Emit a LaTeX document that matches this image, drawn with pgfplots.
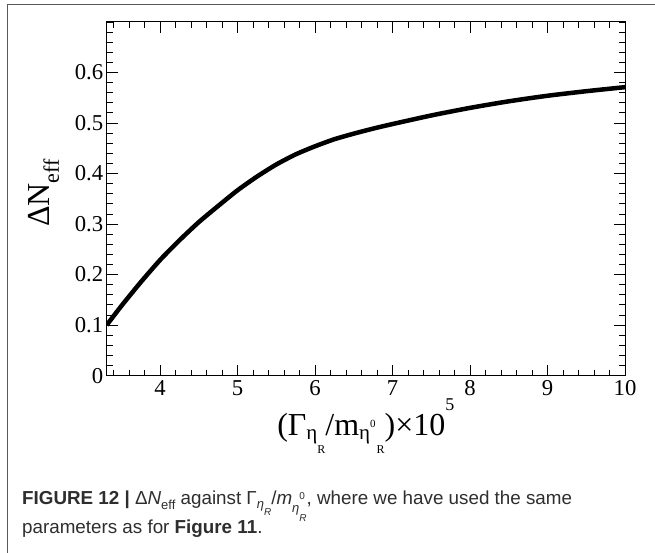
\documentclass[border=0pt]{standalone}
\usepackage{fontspec}
\setmainfont{Liberation Serif}
\newfontfamily\capfont{Liberation Sans}
\usepackage{pgfplots}
\pgfplotsset{compat=1.18}
\newcommand{\fs}[1]{\fontsize{#1}{#1}\selectfont}
\begin{document}
\begin{tikzpicture}[x=1pt,y=1pt]
\useasboundingbox (0,0) rectangle (655,552);
\fill[white] (0,0) rectangle (655,552);
\draw[line width=1.3pt, black!65] (7.3,-5) -- (7.3,547.3) -- (660,547.3);
\begin{axis}[
  at={(106.7pt,176.4pt)}, anchor=south west,
  scale only axis, width=518.3pt, height=353.6pt,
  xmin=3.31, xmax=10, ymin=0, ymax=0.7,
  xtick={4,5,6,7,8,9,10},
  ytick={0,0.1,0.2,0.3,0.4,0.5,0.6},
  minor xtick={3.4,3.6,...,9.9},
  minor ytick={0.02,0.04,...,0.69},
  major tick length=11pt, minor tick length=6pt,
  tick align=inside,
  axis line style={line width=1pt},
  every tick/.style={black, line width=0.9pt},
  /pgf/number format/assume math mode=true,
  yticklabel style={/pgf/number format/.cd, fixed, precision=1},
  ticklabel style={font=\fs{22.7}},
  xticklabel style={anchor=base, yshift=-19.6pt},
  xlabel={\fs{32}(Γ\raisebox{-4pt}{\fs{21}η}\raisebox{-18pt}{\fs{12}R}/m\raisebox{-4pt}{\fs{21}η}\raisebox{8pt}{\fs{11}0}\kern1pt\raisebox{-18pt}{\fs{12}R})×10\raisebox{25pt}{\fs{18}5}},
  xlabel style={at={(axis description cs:0.5,0)}, anchor=base, yshift=-59.4pt, inner sep=0pt},
  ylabel={\fs{32}ΔN\raisebox{-9pt}{\fs{22}eff}},
  ylabel style={at={(axis description cs:-0.1094,0.516)}, anchor=base, rotate=0, inner sep=0pt},
]
\addplot[black, line width=4.5pt, smooth, tension=0.4] coordinates {
(3.31,0.100) (3.50,0.138) (3.75,0.185) (4.00,0.229) (4.25,0.268)
(4.50,0.304) (4.75,0.336) (5.00,0.367) (5.25,0.394) (5.50,0.418)
(5.75,0.438) (6.00,0.454) (6.25,0.468) (6.50,0.479) (6.75,0.489)
(7.00,0.498) (7.50,0.515) (8.00,0.530) (8.50,0.543) (9.00,0.554)
(9.50,0.563) (10.0,0.571)
};
\end{axis}
\begin{scope}[every node/.style={anchor=base west, inner sep=0pt, text=black!82}]
\node at (22,48) {\capfont\fs{18.8}{\bfseries FIGURE 12 |} Δ\textit{N}\raisebox{-5pt}{\fs{13}eff} against Γ\raisebox{-4pt}{\fs{13}\itshape η\raisebox{-7pt}{\fs{10}R}}/\textit{m}\raisebox{-8pt}{\fs{13}\itshape η\rlap{\raisebox{13pt}{\fs{10}\upshape 0}}\raisebox{-9pt}{\fs{10}R}}, where we have used the same};
\node at (22,19) {\capfont\fs{18.8}parameters as for {\bfseries Figure 11}.};
\end{scope}
\end{tikzpicture}
\end{document}
